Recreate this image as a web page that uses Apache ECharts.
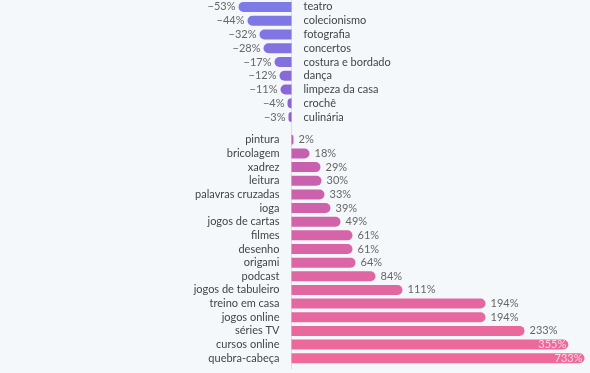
<!DOCTYPE html>
<html>
<head>
<meta charset="utf-8">
<script src="https://cdn.jsdelivr.net/npm/echarts@6/dist/echarts.min.js"></script>
<style>
html,body{margin:0;padding:0;background:#f5f8fb;}
#c{width:590px;height:373px;}
</style>
</head>
<body>
<div id="c"></div>
<script>
const negCategories = ['teatro','colecionismo','fotografia','concertos','costura e bordado','dança','limpeza da casa','crochê','culinária'];
const negValues = [-53,-44,-32,-28,-17,-12,-11,-4,-3];
const posCategories = ['pintura','bricolagem','xadrez','leitura','palavras cruzadas','ioga','jogos de cartas','filmes','desenho','origami','podcast','jogos de tabuleiro','treino em casa','jogos online','séries TV','cursos online','quebra-cabeça'];
const posValues = [2,18,29,30,33,39,49,61,61,64,84,111,194,194,233,355,733];

function lerp(a,b,t){
  const pa=[1,3,5].map(i=>parseInt(a.substr(i,2),16));
  const pb=[1,3,5].map(i=>parseInt(b.substr(i,2),16));
  return 'rgb('+pa.map((v,i)=>Math.round(v+(pb[i]-v)*t)).join(',')+')';
}

const zeroX=291.5;
const fontFam='Lato, "Open Sans", sans-serif';
const lineCol='#d9dde2';
const gb={outerBoundsMode:'none',containLabel:false};

const chart=echarts.init(document.getElementById('c'));
chart.setOption({
  backgroundColor:'#f5f8fb',
  animation:false,
  grid:[
    Object.assign({left:zeroX-290,width:290,top:0,height:124},gb),
    Object.assign({left:zeroX,width:295,top:133,height:232},gb),
    Object.assign({left:zeroX,width:100,top:0,height:369},gb)
  ],
  xAxis:[
    {gridIndex:0,type:'value',min:-290,max:0,show:false,splitLine:{show:false}},
    {gridIndex:1,type:'value',min:0,max:735,show:false,splitLine:{show:false},
      breaks:[{start:275,end:725,gap:10}],breakArea:{show:false}},
    {gridIndex:2,type:'value',min:0,max:1,show:false,splitLine:{show:false}}
  ],
  yAxis:[
    {gridIndex:0,type:'category',data:negCategories,inverse:true,position:'right',
      axisLine:{show:false},axisTick:{show:false},
      axisLabel:{interval:0,margin:12,color:'#444',fontSize:11,fontFamily:fontFam}},
    {gridIndex:1,type:'category',data:posCategories,inverse:true,position:'left',
      axisLine:{show:false},axisTick:{show:false},
      axisLabel:{interval:0,margin:12,color:'#444',fontSize:11,fontFamily:fontFam}},
    {gridIndex:2,type:'value',min:0,max:1,position:'left',
      axisLine:{show:true,lineStyle:{color:lineCol,width:1}},
      axisTick:{show:false},axisLabel:{show:false},splitLine:{show:false}}
  ],
  series:[
    {type:'bar',xAxisIndex:0,yAxisIndex:0,barWidth:10,
      data:negValues.map((v,i)=>({value:v,itemStyle:{color:lerp('#7c7be8','#8e60d2',i/(negValues.length-1))}})),
      itemStyle:{borderRadius:[5,0,0,5]},
      label:{show:true,position:'left',distance:3,color:'#666',fontSize:11,fontFamily:fontFam,
        formatter:p=>'\u2212'+Math.abs(p.value)+'%'}},
    {type:'bar',xAxisIndex:1,yAxisIndex:1,barWidth:10,
      data:posValues.map((v,i)=>{
        const inside=v>300;
        return {value:v,itemStyle:{color:lerp('#c25fb2','#ef6a9a',i/(posValues.length-1))},
          label:inside?{position:'insideRight',distance:2,color:'rgba(255,235,242,0.85)'}:{}};
      }),
      itemStyle:{borderRadius:[0,5,5,0]},
      label:{show:true,position:'right',distance:5,color:'#666',fontSize:11,fontFamily:fontFam,
        formatter:p=>p.value+'%'}}
  ]
});
</script>
</body>
</html>
